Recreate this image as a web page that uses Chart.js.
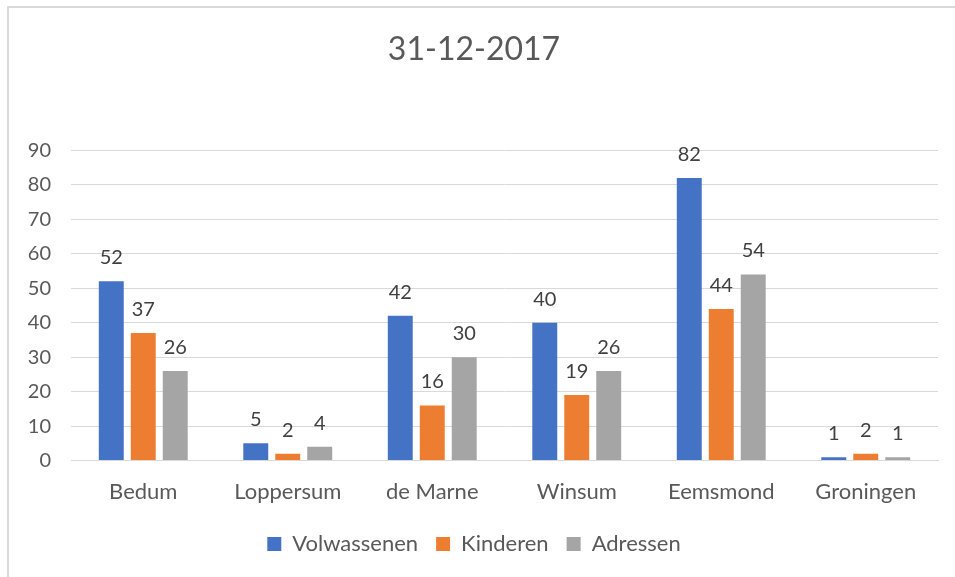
<!DOCTYPE html>
<html>
<head>
<meta charset="utf-8">
<script src="https://cdn.jsdelivr.net/npm/chart.js@4.4.1/dist/chart.umd.min.js"></script>
<style>
  html, body { margin: 0; padding: 0; background: #fff; }
  #wrap { position: relative; width: 955px; height: 577px; }
  #frame { position: absolute; left: 7px; top: 6px; right: -10px; bottom: -10px; border: 2px solid #d9d9d9; pointer-events: none; }
  canvas { display: block; }
</style>
</head>
<body>
<div id="wrap">
  <canvas id="chart" width="955" height="577"></canvas>
  <div id="frame"></div>
</div>
<script>
const title = "31-12-2017";
const categories = ["Bedum", "Loppersum", "de Marne", "Winsum", "Eemsmond", "Groningen"];
const volwassenen = [52, 5, 42, 40, 82, 1];
const kinderen = [37, 2, 16, 19, 44, 2];
const adressen = [26, 4, 30, 26, 54, 1];
const yTicks = [0, 10, 20, 30, 40, 50, 60, 70, 80, 90];

const fontFamily = "Lato, 'Open Sans', sans-serif";
const textColor = "#595959";

// draws the value above each bar
const valueLabels = {
  id: "valueLabels",
  afterDatasetsDraw(chart) {
    const ctx = chart.ctx;
    ctx.save();
    ctx.font = "20px " + fontFamily;
    ctx.fillStyle = "#404040";
    ctx.textAlign = "center";
    ctx.textBaseline = "alphabetic";
    chart.data.datasets.forEach((ds, i) => {
      chart.getDatasetMeta(i).data.forEach((bar, j) => {
        ctx.fillText(String(ds.data[j]), bar.x, bar.y - 17);
      });
    });
    ctx.restore();
  }
};

new Chart(document.getElementById("chart"), {
  type: "bar",
  data: {
    labels: categories,
    datasets: [
      {label: "Volwassenen", data: volwassenen, backgroundColor: "#4472c4"},
      {label: "Kinderen", data: kinderen, backgroundColor: "#ed7d31"},
      {label: "Adressen", data: adressen, backgroundColor: "#a5a5a5"}
    ]
  },
  options: {
    responsive: false,
    animation: false,
    layout: {padding: {left: 10, right: 17, top: 0, bottom: 12}},
    datasets: {bar: {categoryPercentage: 0.664, barPercentage: 0.78}},
    plugins: {
      title: {
        display: true,
        text: title,
        color: textColor,
        font: {family: fontFamily, size: 32, weight: "normal"},
        padding: {top: 30, bottom: 82}
      },
      legend: {
        position: "bottom",
        labels: {
          color: textColor,
          font: {family: fontFamily, size: 22},
          boxWidth: 14,
          boxHeight: 14,
          padding: 18
        }
      },
      tooltip: {enabled: false}
    },
    scales: {
      x: {
        grid: {display: false},
        border: {color: "#d9d9d9", width: 1},
        ticks: {color: textColor, font: {family: fontFamily, size: 22}, padding: 10}
      },
      y: {
        min: 0,
        max: 90,
        afterBuildTicks: axis => { axis.ticks = yTicks.map(v => ({value: v})); },
        afterFit: axis => { axis.width = 61; },
        grid: {color: "#d9d9d9", drawTicks: false},
        border: {display: false},
        ticks: {color: textColor, font: {family: fontFamily, size: 20}, padding: 20}
      }
    }
  },
  plugins: [valueLabels]
});
</script>
</body>
</html>
